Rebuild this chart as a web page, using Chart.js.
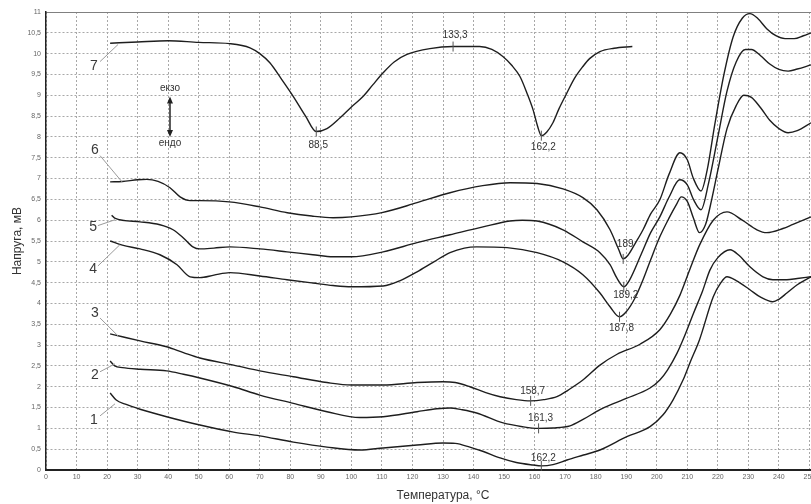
<!DOCTYPE html>
<html>
<head>
<meta charset="utf-8">
<script src="https://cdn.jsdelivr.net/npm/chart.js@4.4.0/dist/chart.umd.min.js"></script>
<style>
    html, body { margin: 0; padding: 0; background: #fff; overflow: hidden; }
    #wrap { width: 860px; height: 504px; }
</style>
</head>
<body>
<div id="wrap"><canvas id="canvas" width="860" height="504"></canvas></div>
<script>
'use strict';

// curve 1
var curve1T = [21, 23, 26, 30.8, 39.5, 50.4, 61.4, 70, 81, 92, 102.8, 110.4, 121.5, 130, 134, 138.8, 143, 148.7, 154, 159.5, 162.2, 166, 170.6, 176, 181.4, 190.2, 197.8, 202, 205.3, 208.6, 211, 214, 218.5, 221, 223, 226, 230.5, 234, 238, 240, 242.6, 246, 250.5];
var curve1V = [1.85, 1.68, 1.58, 1.46, 1.28, 1.08, 0.91, 0.82, 0.67, 0.55, 0.48, 0.53, 0.6, 0.65, 0.64, 0.55, 0.45, 0.29, 0.18, 0.12, 0.1, 0.13, 0.24, 0.36, 0.48, 0.8, 1.04, 1.32, 1.68, 2.16, 2.6, 3.13, 4.16, 4.5, 4.64, 4.55, 4.33, 4.15, 4.04, 4.1, 4.25, 4.45, 4.64];
// curve 2
var curve2T = [21, 22.5, 25, 30.8, 39.5, 45, 50.4, 61.4, 70, 81, 92, 102.8, 110.4, 121.5, 128, 132.3, 136, 141, 149.7, 156, 161.3, 166, 171.6, 176, 181.4, 186, 190, 197.8, 201, 203.5, 206.6, 209, 212, 215, 217.4, 220, 224, 227, 230.5, 234.8, 238, 242.6, 246, 250.5];
var curve2V = [2.62, 2.5, 2.46, 2.42, 2.38, 2.3, 2.21, 2.0, 1.8, 1.6, 1.4, 1.26, 1.28, 1.4, 1.47, 1.49, 1.45, 1.37, 1.13, 1.04, 1.0, 1.01, 1.06, 1.22, 1.45, 1.6, 1.72, 1.97, 2.16, 2.4, 2.8, 3.2, 3.76, 4.3, 4.8, 5.1, 5.29, 5.15, 4.88, 4.64, 4.57, 4.57, 4.6, 4.64];
// curve 3
var curve3T = [21, 25, 30.8, 39.5, 45, 50.4, 61.4, 70, 81, 92, 100, 110.4, 121.5, 130, 134, 138.8, 144, 148.7, 154, 158.7, 163, 167.3, 171, 175.8, 181.4, 187, 194.5, 201, 204.5, 207.6, 211, 214, 218.5, 223, 228, 232.8, 236, 241.3, 244.6, 250.5];
var curve3V = [3.27, 3.2, 3.1, 2.96, 2.82, 2.69, 2.52, 2.38, 2.24, 2.1, 2.04, 2.04, 2.1, 2.12, 2.1, 2.0, 1.86, 1.76, 1.69, 1.66, 1.69, 1.76, 1.92, 2.16, 2.52, 2.78, 3.02, 3.37, 3.75, 4.2, 4.85, 5.4, 6.0, 6.2, 6.0, 5.77, 5.7, 5.8, 5.9, 6.08];
// curve 4
var curve4T = [21, 25, 30.8, 37.3, 42.9, 47.2, 50.4, 55, 60.2, 70, 78.9, 87.4, 94, 100, 110.4, 116, 121.5, 127, 132.3, 137, 141, 151, 160.8, 169.3, 175.8, 181.4, 184.7, 187.8, 190, 193, 195.5, 198, 201, 204, 206.6, 208, 210, 212, 214, 216, 218, 220, 223, 226, 228.5, 231, 234, 237, 240, 243, 246, 250.5];
var curve4V = [5.5, 5.4, 5.31, 5.17, 4.93, 4.64, 4.62, 4.68, 4.74, 4.66, 4.57, 4.49, 4.43, 4.4, 4.42, 4.55, 4.76, 5.0, 5.22, 5.33, 5.36, 5.34, 5.22, 5.0, 4.69, 4.25, 3.92, 3.68, 3.8, 4.15, 4.57, 5.05, 5.6, 6.05, 6.4, 6.56, 6.45, 6.05, 5.7, 5.9, 6.5, 7.2, 8.2, 8.75, 9.0, 8.95, 8.7, 8.4, 8.2, 8.1, 8.15, 8.34];
// curve 5
var curve5T = [21.5, 22.5, 30.8, 37.3, 41.6, 44.9, 48.1, 50.4, 55, 60.2, 70, 78.9, 87.4, 94, 100, 110.4, 121.5, 132.3, 143.1, 151.9, 156, 160.8, 169.3, 175.8, 181.4, 184.7, 187, 189.2, 191, 195, 198, 201, 204, 207.5, 210, 212, 214.5, 217, 220, 223, 226, 229, 231, 234, 237, 240, 243, 246, 250.5];
var curve5V = [6.12, 6.05, 5.96, 5.89, 5.77, 5.58, 5.36, 5.31, 5.33, 5.36, 5.31, 5.24, 5.17, 5.12, 5.12, 5.24, 5.46, 5.65, 5.84, 5.98, 6.0, 5.98, 5.77, 5.48, 5.22, 4.93, 4.6, 4.4, 4.55, 5.2, 5.7, 6.08, 6.55, 6.97, 6.85, 6.5, 6.25, 6.9, 8.0, 9.1, 9.8, 10.1, 10.1, 9.95, 9.75, 9.62, 9.58, 9.63, 9.73];
// curve 6
var curve6T = [21, 25, 30, 33, 36.7, 40.6, 43.9, 47.2, 50.4, 60, 70, 79, 87, 94, 100, 110, 121.5, 132.3, 143, 152, 160.8, 169.3, 175.8, 180.4, 184.7, 187.5, 189, 190.5, 193, 195.5, 198, 201, 204, 207.6, 210, 212, 214.5, 216.5, 219, 222, 225, 228, 230.5, 233, 236, 239, 242, 245, 248, 250.5];
var curve6V = [6.92, 6.93, 6.97, 6.98, 6.93, 6.78, 6.56, 6.47, 6.47, 6.44, 6.32, 6.18, 6.1, 6.06, 6.08, 6.18, 6.42, 6.66, 6.83, 6.9, 6.88, 6.75, 6.54, 6.25, 5.77, 5.3, 5.07, 5.15, 5.45, 5.77, 6.15, 6.49, 7.1, 7.62, 7.45, 7.0, 6.7, 7.2, 8.3, 9.5, 10.4, 10.85, 10.96, 10.85, 10.6, 10.43, 10.36, 10.36, 10.43, 10.5];
// curve 7
var curve7T = [21, 30, 40, 50, 60, 66.8, 70, 73.3, 77, 81, 85, 88.5, 92, 96.3, 100, 103.8, 107, 110.4, 114, 118.2, 125.7, 133.3, 142, 146, 149.6, 152.5, 155.2, 157.5, 159.5, 161, 162.2, 164, 166, 168, 170.6, 173, 175.8, 178, 181.4, 186, 192];
var curve7V = [10.25, 10.28, 10.31, 10.27, 10.24, 10.14, 10.0, 9.78, 9.4, 8.97, 8.5, 8.13, 8.2, 8.46, 8.72, 8.97, 9.25, 9.54, 9.8, 9.98, 10.12, 10.17, 10.17, 10.1, 9.93, 9.72, 9.45, 9.05, 8.65, 8.25, 8.03, 8.12, 8.34, 8.68, 9.06, 9.4, 9.69, 9.88, 10.05, 10.13, 10.17];

var curvesT = [curve1T, curve2T, curve3T, curve4T, curve5T, curve6T, curve7T];
var curvesV = [curve1V, curve2V, curve3V, curve4V, curve5V, curve6V, curve7V];

// curve numbers: label, text T, text V, leader from (T, V) to (T, V)
var curveNames = ['1', '2', '3', '4', '5', '6', '7'];
var nameT = [15.7, 16, 16, 15.4, 15.4, 16, 15.7];
var nameV = [1.2, 2.28, 3.77, 4.83, 5.84, 7.69, 9.69];
var leaderT1 = [17.7, 17.7, 17.7, 17, 17, 17.7, 17.7];
var leaderV1 = [1.3, 2.36, 3.65, 4.9, 5.87, 7.55, 9.81];
var leaderT2 = [22.6, 22.6, 23.6, 24.2, 22.6, 24.9, 23.6];
var leaderV2 = [1.59, 2.55, 3.22, 5.41, 6.01, 6.92, 10.22];

// peak temperatures: text, T of peak, V on curve, V of text
var peakText = ['162,2', '161,3', '158,7', '187,8', '189,2', '189', '88,5', '133,3', '162,2'];
var peakT = [162.2, 161.3, 158.7, 187.8, 189.2, 189, 88.5, 133.3, 162.2];
var peakV = [0.1, 1.0, 1.66, 3.68, 4.4, 5.07, 8.13, 10.17, 8.03];
var peakTextV = [0.29, 1.25, 1.88, 3.41, 4.2, 5.43, 7.81, 10.45, 7.74];

function fmt(v) {
    return String(v).replace('.', ',');
}

var datasets = curvesT.map(function (ts, i) {
    return {
        label: curveNames[i],
        data: ts.map(function (t, j) { return {x: t, y: curvesV[i][j]}; }),
        borderColor: '#1e1e1e',
        borderWidth: 1.4,
        pointRadius: 0,
        fill: false,
        cubicInterpolationMode: 'monotone'
    };
});

var notesPlugin = {
    id: 'notes',
    afterDatasetsDraw: function (chart) {
        var ctx = chart.ctx, x = chart.scales.x, y = chart.scales.y;
        ctx.save();

        // leaders + curve numbers
        ctx.strokeStyle = '#9a9a9a';
        ctx.lineWidth = 1;
        curveNames.forEach(function (name, i) {
            ctx.beginPath();
            ctx.moveTo(x.getPixelForValue(leaderT1[i]), y.getPixelForValue(leaderV1[i]));
            ctx.lineTo(x.getPixelForValue(leaderT2[i]), y.getPixelForValue(leaderV2[i]));
            ctx.stroke();
        });
        ctx.fillStyle = '#3a3a3a';
        ctx.font = '14px "Liberation Sans", Arial, sans-serif';
        ctx.textAlign = 'center';
        ctx.textBaseline = 'middle';
        curveNames.forEach(function (name, i) {
            ctx.fillText(name, x.getPixelForValue(nameT[i]), y.getPixelForValue(nameV[i]));
        });

        // peak ticks + values
        ctx.strokeStyle = '#555';
        ctx.font = '10px "Liberation Sans", Arial, sans-serif';
        ctx.fillStyle = '#333';
        peakText.forEach(function (txt, i) {
            var px = x.getPixelForValue(peakT[i]), py = y.getPixelForValue(peakV[i]);
            ctx.beginPath();
            ctx.moveTo(px, py - 5);
            ctx.lineTo(px, py + 5);
            ctx.stroke();
            ctx.fillText(txt, px + 2, y.getPixelForValue(peakTextV[i]));
        });

        // exo / endo arrow
        var ax = x.getPixelForValue(40.6),
            ay1 = y.getPixelForValue(8.97),
            ay2 = y.getPixelForValue(8.0);
        ctx.strokeStyle = '#222';
        ctx.fillStyle = '#222';
        ctx.lineWidth = 1.5;
        ctx.beginPath();
        ctx.moveTo(ax, ay1 + 4);
        ctx.lineTo(ax, ay2 - 4);
        ctx.stroke();
        ctx.beginPath();
        ctx.moveTo(ax, ay1); ctx.lineTo(ax - 3, ay1 + 7); ctx.lineTo(ax + 3, ay1 + 7); ctx.closePath();
        ctx.moveTo(ax, ay2); ctx.lineTo(ax - 3, ay2 - 7); ctx.lineTo(ax + 3, ay2 - 7); ctx.closePath();
        ctx.fill();
        ctx.fillStyle = '#333';
        ctx.fillText('екзо', ax, y.getPixelForValue(9.18));
        ctx.fillText('ендо', ax, y.getPixelForValue(7.84));

        ctx.restore();
    }
};

Chart.defaults.font.family = '"Liberation Sans", Arial, sans-serif';

const chart = new Chart(document.getElementById('canvas').getContext('2d'), {
    type: 'line',
    data: {datasets: datasets},
    options: {
        responsive: false,
        animation: false,
        events: [],
        layout: {padding: {top: 12, right: 20, left: 0, bottom: 0}},
        plugins: {
            legend: {display: false},
            tooltip: {enabled: false}
        },
        scales: {
            x: {
                type: 'linear',
                min: 0,
                max: 260,
                afterFit: function (s) { s.height = 34; },
                ticks: {
                    stepSize: 10,
                    padding: 3,
                    color: '#666',
                    font: {size: 7},
                    maxRotation: 0,
                    autoSkip: false
                },
                grid: {color: '#a8a8a8', drawTicks: false},
                border: {display: true, color: '#222', width: 2, dash: [2, 2]},
                title: {
                    display: true,
                    text: 'Температура, °С',
                    color: '#333',
                    font: {size: 12},
                    padding: {top: 0, bottom: 1}
                }
            },
            x2: {
                type: 'linear',
                position: 'top',
                min: 0,
                max: 260,
                afterFit: function (s) { s.height = 0; },
                ticks: {display: false},
                grid: {display: false},
                border: {display: true, color: '#808080', width: 1}
            },
            y: {
                min: 0,
                max: 11,
                afterFit: function (s) { s.width = 46; },
                ticks: {
                    stepSize: 0.5,
                    padding: 5,
                    color: '#666',
                    font: {size: 7},
                    callback: function (v) { return fmt(v); }
                },
                grid: {color: '#a8a8a8', drawTicks: false},
                border: {display: true, color: '#222', width: 1.5, dash: [2, 2]},
                title: {
                    display: true,
                    text: 'Напруга, мВ',
                    color: '#333',
                    font: {size: 12},
                    padding: {top: 10, bottom: 0}
                }
            }
        }
    },
    plugins: [notesPlugin]
});
</script>
</body>
</html>
